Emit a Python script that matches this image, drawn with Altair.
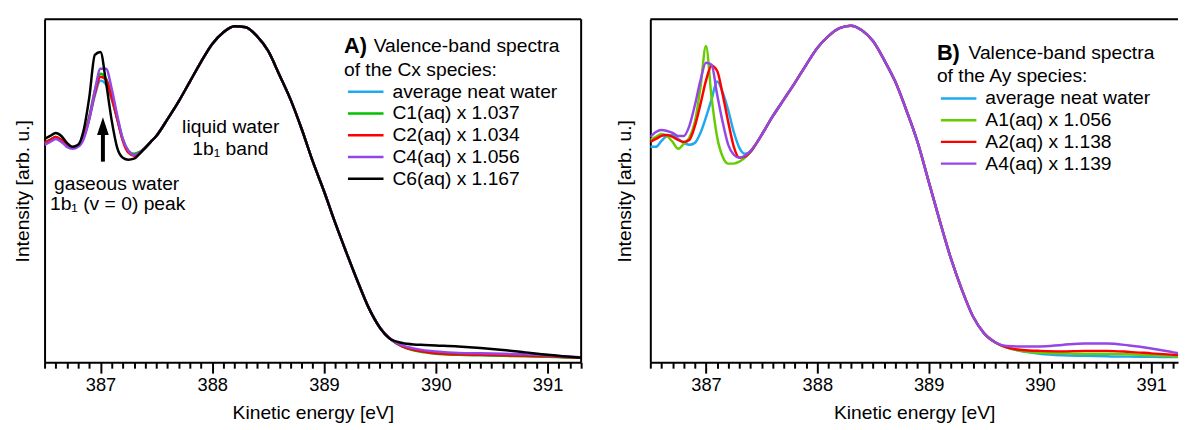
import altair as alt
import pandas as pd

FONT = "Liberation Sans"
YMAX = 347
PLOT_H = 347

# Energy grids (eV)
GAS_E = [386.50, 386.55, 386.60, 386.65, 386.70, 386.75, 386.80, 386.85, 386.90, 386.95,
         387.00, 387.05, 387.10, 387.15, 387.20, 387.25, 387.30, 387.35, 387.40, 387.45, 387.50]
BAND_E = [387.6, 387.7, 387.8, 387.9, 388.0, 388.1, 388.2, 388.3, 388.4, 388.5, 388.6,
          388.7, 388.8, 388.9, 389.0, 389.1, 389.2, 389.3, 389.4, 389.5, 389.6]
TAIL_E = [389.7, 389.8, 389.9, 390.0, 390.2, 390.4, 390.6, 390.8, 391.0, 391.2, 391.3]

# ---------------- Panel A (Cx species) ----------------
A_NAMES = ["average neat water", "C1(aq) x 1.037", "C2(aq) x 1.034", "C4(aq) x 1.056", "C6(aq) x 1.167"]
A_COLORS = ["#1faaf0", "#00c000", "#ff0000", "#9447e6", "#000000"]
A_GAS = [
    [222, 225, 228, 225, 220, 217, 219, 228, 246, 270, 285, 281, 266, 246, 225, 213, 210, 212, 217, 223, 229],
    [222, 225, 228, 225, 220, 217, 219, 229, 249, 275, 292, 287, 269, 247, 226, 214, 211, 213, 217, 223, 229],
    [222, 225, 228, 225, 220, 217, 219, 228, 247, 272, 289, 286, 268, 246, 224, 212, 209, 212, 217, 223, 229],
    [220, 223, 226, 223, 218, 216, 218, 226, 246, 275, 297, 297, 277, 250, 226, 214, 210, 212, 217, 223, 229],
    [226, 229, 232, 229, 222, 218, 220, 235, 268, 311, 314, 283, 245, 217, 207, 205, 206, 211, 217, 223, 229],
]
A_BAND = [246, 264, 284, 304, 322, 334, 340, 339, 330, 315, 291, 266, 236, 203, 173, 141, 111, 82, 55, 35, 23]
A_TAIL = [
    [16, 13, 11, 9.5, 8, 7.5, 7, 6.5, 6, 5, 4.5],
    [16, 12, 10, 8.5, 7.5, 7, 6.5, 6, 5.5, 5, 4.5],
    [16, 12.5, 10.5, 9, 8, 7.5, 7, 6.5, 6, 5, 4.5],
    [17, 14, 12, 11, 9.5, 9, 8.5, 8, 7, 5.5, 5],
    [19.5, 18, 17.5, 17, 16, 14.5, 12.5, 10, 7.5, 5.5, 4.5],
]

# ---------------- Panel B (Ay species) ----------------
B_NAMES = ["average neat water", "A1(aq) x 1.056", "A2(aq) x 1.138", "A4(aq) x 1.139"]
B_COLORS = ["#1faaf0", "#66cc00", "#ff0000", "#9447e6"]
B_GAS = [
    [218, 218, 224, 229, 230, 226, 222, 220, 222, 232, 248, 266, 284, 273, 255, 233, 217, 211, 213, 221, 230],
    [225, 228, 231, 229, 223, 216, 221, 227, 243, 278, 320, 268, 228, 208, 201, 201, 203, 207, 213, 221, 230],
    [223, 226, 229, 230, 228, 225, 223, 225, 239, 261, 285, 300, 295, 271, 243, 218, 207, 208, 213, 221, 230],
    [228, 233, 235, 234, 232, 229, 229, 239, 260, 285, 303, 301, 271, 243, 220, 210, 207, 209, 214, 221, 230],
]
B_BAND = [249, 266, 283, 301, 318, 330, 338, 340.5, 336, 325, 306, 284, 255, 223, 183, 143, 105, 73, 46, 29, 20]
B_TAIL = [
    [15, 12, 10, 8.5, 7, 6.5, 6, 5.7, 5.5, 5.3, 5.2],
    [15, 12, 10.5, 9.5, 9, 8.5, 8.5, 8, 7, 6, 5.5],
    [15, 13, 12, 11.5, 11, 11.5, 11.5, 10.5, 9, 7.5, 7],
    [16.5, 16, 16, 16, 17.5, 19, 19, 17, 14, 10, 8],
]

# Text / legend placement (data units: eV, arb. u.)
A_HEAD = {"letter": "A)", "rest": "Valence-band spectra", "line2": "of the Cx species:",
          "x_letter": 389.178, "x_rest": 389.444, "y1": 320, "y2": 296}
A_LEG = {"x1": 389.214, "x2": 389.532, "xt": 389.612, "y0": 273.7, "dy": 22}
B_HEAD = {"letter": "B)", "rest": "Valence-band spectra", "line2": "of the Ay species:",
          "x_letter": 389.074, "x_rest": 389.358, "y1": 313, "y2": 290}
B_LEG = {"x1": 389.110, "x2": 389.429, "xt": 389.509, "y0": 267, "dy": 22}

A_NOTES_TEXT = ["liquid water", "1b\u2081 band", "gaseous water", "1b\u2081 (v = 0) peak"]
A_NOTES_X = [388.166, 388.162, 387.145, 387.154]
A_NOTES_Y = [238, 216, 180, 160]
ARROW_X = 387.022
ARROW_Y_TAIL = 203
ARROW_Y_HEADBASE = 232
ARROW_Y_HEADCENTER = 239


def panel(names, colors, gas, band, tails, xmax, width, title_pad, head, leg,
          notes=None, arrow=False, right_border=True):
    xs = alt.Scale(domain=[386.5, xmax], nice=False, zero=False)
    ys = alt.Scale(domain=[0, YMAX], nice=False, zero=False)
    n_ticks = int(round((xmax - 386.5) / 0.1)) + 1
    ticks = [round(386.5 + 0.1 * i, 1) for i in range(n_ticks)]
    major = "abs(datum.value - round(datum.value)) < 0.01"
    xaxis = alt.Axis(values=ticks, title="Kinetic energy [eV]",
                     labelExpr=f"{major} ? format(datum.value, 'd') : ''",
                     tickSize={"condition": {"test": major, "value": 11}, "value": 6},
                     tickWidth=2, tickColor="black", domainWidth=2, domainColor="black",
                     labelFontSize=18.5, labelPadding=3, labelOverlap=False, labelFlush=False,
                     labelColor="black", labelFont=FONT,
                     titleFontSize=19.5, titlePadding=9, titleFontWeight="normal",
                     titleColor="black", titleFont=FONT, grid=False)
    yaxis = alt.Axis(title="Intensity [arb. u.]", ticks=False, labels=False, grid=False,
                     domainWidth=2, domainColor="black", titleFontSize=19.5,
                     titlePadding=title_pad, titleFontWeight="normal", titleFont=FONT,
                     titleColor="black")

    layers = []
    grid = GAS_E + BAND_E + TAIL_E
    for name, color, g, t in zip(names, colors, gas, tails):
        df = pd.DataFrame({"E": grid, "I": list(g) + list(band) + list(t)})
        layers.append(
            alt.Chart(df).mark_line(strokeWidth=2.5, clip=True, color=color,
                                    interpolate="monotone").encode(
                x=alt.X("E:Q", scale=xs, axis=xaxis),
                y=alt.Y("I:Q", scale=ys, axis=yaxis),
                order=alt.Order("E:Q"),
            )
        )

    # legend samples + labels
    leg_df = pd.DataFrame({
        "name": names, "color": colors,
        "y": [leg["y0"] - i * leg["dy"] for i in range(len(names))],
        "x1": [leg["x1"]] * len(names), "x2": [leg["x2"]] * len(names),
        "xt": [leg["xt"]] * len(names),
    })
    layers.append(
        alt.Chart(leg_df).mark_rule(strokeWidth=2.5).encode(
            x=alt.X("x1:Q", scale=xs, axis=xaxis), x2="x2:Q",
            y=alt.Y("y:Q", scale=ys, axis=yaxis),
            color=alt.Color("color:N", scale=None),
        )
    )
    layers.append(
        alt.Chart(leg_df).mark_text(align="left", baseline="middle", fontSize=19.5,
                                    font=FONT, color="black").encode(
            x=alt.X("xt:Q", scale=xs, axis=xaxis),
            y=alt.Y("y:Q", scale=ys, axis=yaxis),
            text="name:N",
        )
    )
    # heading
    h_bold = pd.DataFrame({"t": [head["letter"]], "x": [head["x_letter"]], "y": [head["y1"]]})
    h_reg = pd.DataFrame({"t": [head["rest"], head["line2"]],
                          "x": [head["x_rest"], head["x_letter"]],
                          "y": [head["y1"], head["y2"]]})
    layers.append(
        alt.Chart(h_bold).mark_text(align="left", baseline="middle", fontSize=22,
                                    fontWeight="bold", font=FONT, color="black").encode(
            x=alt.X("x:Q", scale=xs, axis=xaxis), y=alt.Y("y:Q", scale=ys, axis=yaxis), text="t:N")
    )
    layers.append(
        alt.Chart(h_reg).mark_text(align="left", baseline="middle", fontSize=19.5,
                                   font=FONT, color="black").encode(
            x=alt.X("x:Q", scale=xs, axis=xaxis), y=alt.Y("y:Q", scale=ys, axis=yaxis), text="t:N")
    )

    if notes is not None:
        ndf = pd.DataFrame({"t": notes[0], "x": notes[1], "y": notes[2]})
        layers.append(
            alt.Chart(ndf).mark_text(align="center", baseline="middle", fontSize=19.5,
                                     font=FONT, color="black").encode(
                x=alt.X("x:Q", scale=xs, axis=xaxis), y=alt.Y("y:Q", scale=ys, axis=yaxis),
                text="t:N")
        )
    if arrow:
        adf = pd.DataFrame({"x": [ARROW_X], "y1": [ARROW_Y_TAIL], "y2": [ARROW_Y_HEADBASE],
                            "yc": [ARROW_Y_HEADCENTER]})
        layers.append(
            alt.Chart(adf).mark_rule(strokeWidth=4, color="black").encode(
                x=alt.X("x:Q", scale=xs, axis=xaxis),
                y=alt.Y("y1:Q", scale=ys, axis=yaxis), y2="y2:Q")
        )
        layers.append(
            alt.Chart(adf).mark_point(shape="M0,-1L0.66,1L-0.66,1Z", size=324, filled=True,
                                      opacity=1, color="black", strokeWidth=0).encode(
                x=alt.X("x:Q", scale=xs, axis=xaxis),
                y=alt.Y("yc:Q", scale=ys, axis=yaxis))
        )

    # frame: top edge (and right edge when the panel is complete)
    frame = pd.DataFrame({"k": [0]})
    layers.append(
        alt.Chart(frame).mark_rule(color="black", strokeWidth=2).encode(
            x=alt.value(0), x2=alt.value(width), y=alt.value(0))
    )
    if right_border:
        layers.append(
            alt.Chart(frame).mark_rule(color="black", strokeWidth=2).encode(
                x=alt.value(width), y=alt.value(0), y2=alt.value(PLOT_H))
        )
    return alt.layer(*layers).properties(width=width, height=PLOT_H)


left = panel(A_NAMES, A_COLORS, A_GAS, A_BAND, A_TAIL, 391.3, 543, 12, A_HEAD, A_LEG,
             notes=(A_NOTES_TEXT, A_NOTES_X, A_NOTES_Y), arrow=True, right_border=True)
right = panel(B_NAMES, B_COLORS, B_GAS, B_BAND, B_TAIL, 391.24, 534, 16, B_HEAD, B_LEG,
              right_border=False)

chart = alt.hconcat(left, right, spacing=33).configure(
    padding={"left": 5, "top": 8, "right": 0, "bottom": 0}, font=FONT
).configure_view(stroke=None)

chart.save("out.html", embed_options={"renderer": "svg", "actions": False})
